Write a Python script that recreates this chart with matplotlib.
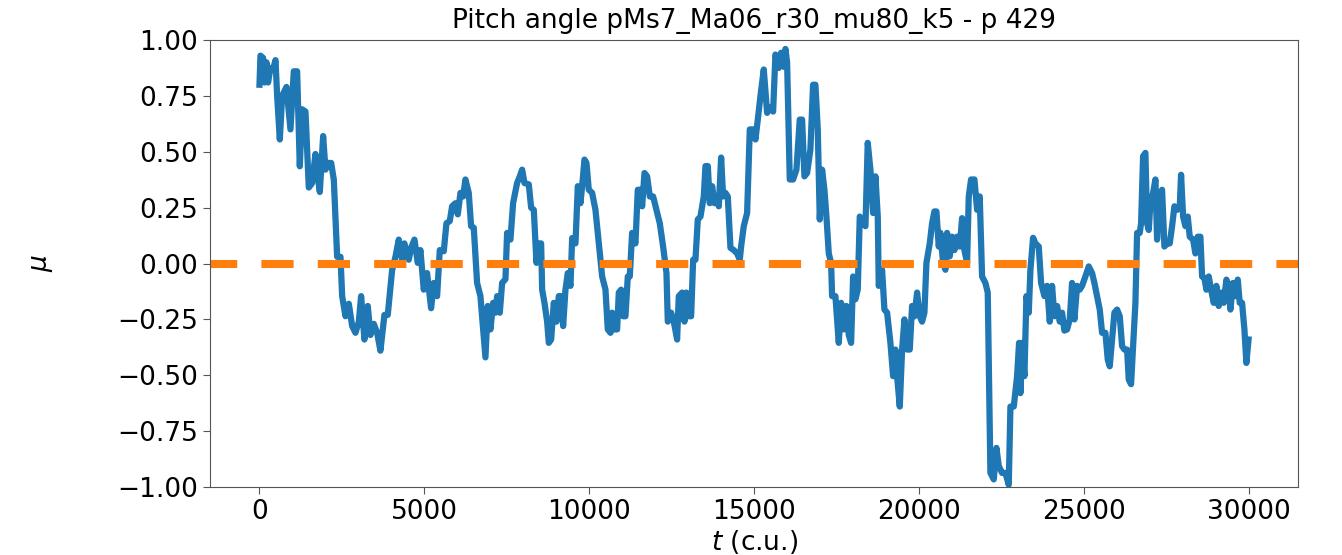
import matplotlib
matplotlib.use("Agg")
import matplotlib.pyplot as plt
import numpy as np

# pitch angle cosine mu vs time
t = [0, 30, 110, 151, 212, 260, 334, 415, 486, 536, 617, 688, 819, 940, 1041, 1142,
     1223, 1294, 1395, 1496, 1597, 1698, 1769, 1830, 1931, 2002, 2073, 2174, 2255,
     2356, 2457, 2508, 2609, 2710, 2811, 2912, 3013, 3083, 3184, 3285, 3366, 3467,
     3568, 3669, 3790, 3891, 4023, 4124, 4225, 4326, 4396, 4528, 4599, 4700, 4801,
     4882, 4983, 5084, 5206, 5287, 5388, 5469, 5590, 5671, 5772, 5843, 5944, 6015,
     6096, 6177, 6247, 6348, 6419, 6500, 6601, 6702, 6783, 6854, 6925, 7006, 7087,
     7158, 7208, 7289, 7360, 7461, 7511, 7612, 7693, 7814, 7896, 7967, 8038, 8169,
     8240, 8321, 8402, 8473, 8543, 8574, 8645, 8725, 8776, 8847, 8928, 9008, 9079,
     9150, 9211, 9281, 9352, 9433, 9484, 9585, 9656, 9736, 9787, 9858, 9918, 9989,
     10090, 10191, 10292, 10394, 10495, 10565, 10646, 10697, 10768, 10848, 10899,
     10970, 11030, 11101, 11172, 11232, 11303, 11404, 11475, 11556, 11607, 11678,
     11758, 11839, 11940, 12041, 12142, 12243, 12345, 12385, 12486, 12567, 12668,
     12719, 12820, 12890, 12951, 13022, 13093, 13154, 13224, 13295, 13376, 13477,
     13528, 13599, 13659, 13730, 13801, 13881, 13932, 14003, 14063, 14134, 14205,
     14286, 14387, 14488, 14569, 14609, 14690, 14791, 14872, 14973, 15044, 15115,
     15196, 15296, 15398, 15479, 15580, 15650, 15751, 15822, 15903, 15953, 16004,
     16085, 16186, 16287, 16388, 16459, 16530, 16610, 16711, 16792, 16863, 16934,
     16995, 17065, 17136, 17197, 17268, 17338, 17369, 17470, 17571, 17642, 17723,
     17803, 17874, 17945, 18006, 18076, 18147, 18208, 18309, 18380, 18450, 18531,
     18612, 18683, 18754, 18784, 18885, 18956, 19037, 19138, 19219, 19290, 19340,
     19421, 19492, 19563, 19643, 19724, 19795, 19866, 19947, 20028, 20098, 20169,
     20230, 20331, 20402, 20472, 20533, 20604, 20654, 20735, 20806, 20856, 20937,
     21008, 21079, 21160, 21241, 21312, 21382, 21463, 21514, 21584, 21686, 21767,
     21847, 21918, 22019, 22090, 22171, 22272, 22353, 22424, 22525, 22626, 22727,
     22778, 22879, 22980, 23040, 23080, 23132, 23202, 23263, 23334, 23384, 23465,
     23536, 23637, 23708, 23809, 23890, 23971, 24041, 24112, 24193, 24274, 24345,
     24415, 24496, 24577, 24648, 24719, 24800, 24880, 24951, 25052, 25153, 25255,
     25325, 25406, 25487, 25558, 25659, 25730, 25790, 25861, 25932, 26013, 26094,
     26165, 26235, 26316, 26367, 26437, 26498, 26569, 26620, 26700, 26741, 26802,
     26872, 26923, 26973, 27024, 27105, 27176, 27226, 27307, 27378, 27449, 27530,
     27610, 27681, 27752, 27833, 27914, 27954, 28015, 28086, 28156, 28217, 28318,
     28389, 28459, 28540, 28591, 28662, 28722, 28793, 28864, 28945, 29025, 29096,
     29167, 29248, 29329, 29399, 29450, 29531, 29602, 29673, 29733, 29804, 29875,
     29935, 30000]
mu = [0.80, 0.93, 0.92, 0.81, 0.90, 0.81, 0.875, 0.87, 0.91, 0.75, 0.555, 0.75, 0.79,
      0.60, 0.86, 0.86, 0.435, 0.69, 0.68, 0.34, 0.36, 0.49, 0.39, 0.32, 0.57, 0.42,
      0.45, 0.45, 0.375, 0.03, 0.03, -0.146, -0.236, -0.18, -0.28, -0.31, -0.26,
      -0.146, -0.34, -0.19, -0.32, -0.27, -0.31, -0.39, -0.23, -0.23, -0.03, 0.03,
      0.107, 0.017, 0.09, 0.017, 0.07, 0.107, 0.003, 0.06, -0.117, -0.043, -0.2,
      -0.087, -0.146, 0.06, 0.055, 0.18, 0.19, 0.256, 0.27, 0.22, 0.316, 0.30, 0.376,
      0.316, 0.167, 0.16, -0.087, -0.146, -0.295, -0.42, -0.19, -0.295, -0.176,
      -0.22, -0.146, -0.22, -0.087, -0.07, 0.137, 0.107, 0.27, 0.36, 0.39, 0.42,
      0.36, 0.354, 0.25, 0.24, 0.003, 0.09, 0.09, -0.117, -0.176, -0.26, -0.355,
      -0.34, -0.176, -0.26, -0.146, -0.146, -0.28, -0.117, -0.043, -0.1, 0.114,
      0.09, 0.346, 0.27, 0.346, 0.465, 0.45, 0.33, 0.316, 0.24, 0.09, -0.058,
      -0.117, -0.295, -0.31, -0.22, -0.295, -0.295, -0.13, -0.117, -0.236, -0.236,
      -0.058, -0.058, 0.137, 0.09, 0.33, 0.33, 0.256, 0.405, 0.39, 0.30, 0.30, 0.24,
      0.18, 0.076, -0.043, -0.26, -0.22, -0.26, -0.34, -0.146, -0.13, -0.26, -0.13,
      -0.236, -0.236, 0.017, 0.017, 0.197, 0.21, 0.30, 0.436, 0.436, 0.27, 0.346,
      0.27, 0.30, 0.256, 0.474, 0.30, 0.316, 0.30, 0.07, 0.06, 0.045, 0.017, 0.076,
      0.167, 0.226, 0.60, 0.60, 0.555, 0.644, 0.75, 0.868, 0.674, 0.70, 0.68, 0.935,
      0.875, 0.943, 0.88, 0.96, 0.90, 0.376, 0.376, 0.42, 0.644, 0.644, 0.39, 0.405,
      0.51, 0.80, 0.80, 0.60, 0.197, 0.42, 0.33, 0.21, 0.045, 0.003, -0.146, -0.146,
      -0.355, -0.176, -0.295, -0.19, -0.32, -0.355, -0.058, -0.16, -0.117, 0.21,
      0.18, 0.167, 0.54, 0.42, 0.226, 0.39, 0.21, -0.1, -0.028, -0.206, -0.22,
      -0.355, -0.504, -0.385, -0.504, -0.64, -0.385, -0.25, -0.385, -0.385, -0.19,
      -0.236, -0.13, -0.236, -0.26, -0.22, 0.003, 0.09, 0.18, 0.233, 0.233, 0.076,
      0.137, 0.003, -0.028, 0.137, 0.032, 0.12, 0.06, 0.12, 0.076, 0.203, 0.06,
      0.003, 0.30, 0.376, 0.376, 0.24, 0.30, -0.058, -0.087, -0.13, -0.937, -0.966,
      -0.825, -0.906, -0.937, -0.937, -0.99, -0.64, -0.64, -0.504, -0.355, -0.58,
      -0.355, -0.504, -0.146, -0.22, -0.028, 0.115, 0.09, 0.076, -0.087, -0.146,
      -0.1, -0.26, -0.1, -0.236, -0.19, -0.26, -0.22, -0.3, -0.295, -0.25, -0.087,
      -0.25, -0.1, -0.117, -0.1, -0.058, -0.013, -0.043, -0.087, -0.146, -0.206,
      -0.31, -0.31, -0.43, -0.46, -0.34, -0.22, -0.206, -0.236, -0.37, -0.385,
      -0.385, -0.52, -0.54, -0.37, -0.176, 0.137, 0.137, 0.18, 0.48, 0.495, 0.18,
      0.15, 0.27, 0.316, 0.376, 0.107, 0.30, 0.33, 0.076, 0.09, 0.09, 0.167, 0.256,
      0.24, 0.256, 0.397, 0.21, 0.167, 0.21, 0.12, 0.107, 0.045, 0.12, 0.12, -0.058,
      -0.065, -0.117, -0.058, -0.117, -0.176, -0.1, -0.19, -0.13, -0.176, -0.072,
      -0.1, -0.206, -0.087, -0.146, -0.072, -0.176, -0.176, -0.295, -0.445, -0.34]

y_ticks = [-1.00, -0.75, -0.50, -0.25, 0.00, 0.25, 0.50, 0.75, 1.00]
x_ticks = [0, 5000, 10000, 15000, 20000, 25000, 30000]

fig = plt.figure(figsize=(13.42, 5.55), dpi=100)
ax = fig.add_axes([0.1565, 0.1225, 0.8107, 0.8054])

ax.plot(t, mu, color="C0", lw=4.5)
# dashed zero line; small phase offset so the first dash is cut at the spine
ax.axhline(0, color="C1", lw=5.8, ls=(0.62, (4, 3)))

ax.set_ylim(-1, 1)
ax.set_yticks(y_ticks)
ax.set_xticks(x_ticks)
ax.tick_params(labelsize=19, length=5, color="#555555")
for s in ax.spines.values():
    s.set_color("#555555")
ax.set_xlabel(r"$t$ (c.u.)", fontsize=19, labelpad=2)
ax.set_ylabel(r"$\mu$", fontsize=19, labelpad=45)
ax.set_title("Pitch angle pMs7_Ma06_r30_mu80_k5 - p 429", fontsize=19, pad=9)

fig.savefig("out.png", dpi=100)
